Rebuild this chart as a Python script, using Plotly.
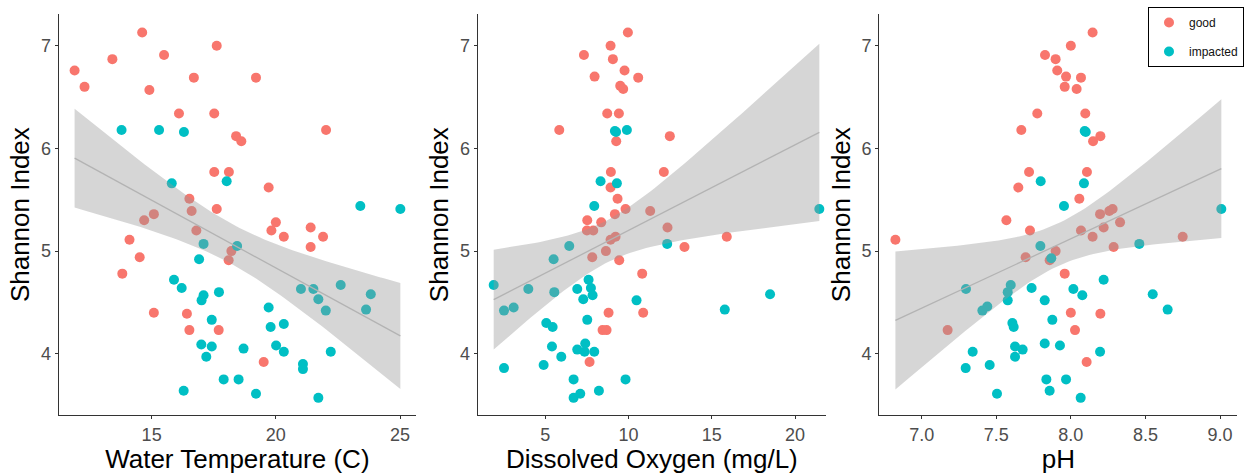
import numpy as np
import plotly.graph_objects as go

# ---------------- data ----------------
temp_good = [11.90, 12.30, 13.42, 14.62, 14.91, 15.50, 16.70, 17.62, 19.20, 16.10,
             17.52, 22.02, 18.40, 18.61, 17.52, 18.11, 19.71, 16.52, 16.61, 17.62,
             15.09, 14.70, 16.80, 20.00, 19.82, 20.32, 21.40, 21.90, 21.40, 14.11,
             18.21, 18.10, 14.52, 13.82, 15.09, 16.42, 16.52, 17.70, 19.51]
sh_temp_good = [6.76, 6.60, 6.87, 7.13, 6.57, 6.91, 6.69, 7.00, 6.69, 6.34,
                6.34, 6.18, 6.12, 6.07, 5.77, 5.77, 5.62, 5.51, 5.39, 5.41,
                5.36, 5.30, 5.20, 5.28, 5.20, 5.14, 5.23, 5.14, 5.04, 5.11,
                5.00, 4.91, 4.94, 4.78, 4.40, 4.39, 4.23, 4.23, 3.92]
temp_imp = [13.79, 15.30, 16.30, 18.02, 15.81, 23.40, 25.01, 17.09, 18.44, 16.91,
            15.90, 16.21, 17.09, 17.01, 17.71, 21.01, 21.51, 21.71, 22.01, 22.61,
            23.82, 23.63, 17.42, 19.71, 19.79, 20.32, 17.00, 17.42, 17.20, 18.70,
            20.01, 20.32, 22.21, 21.09, 21.09, 17.90, 18.50, 16.29, 19.20, 21.71]
sh_temp_imp = [6.18, 6.18, 6.16, 5.68, 5.66, 5.44, 5.41, 5.07, 5.05, 4.92,
               4.72, 4.64, 4.57, 4.52, 4.60, 4.63, 4.63, 4.53, 4.42, 4.67,
               4.58, 4.43, 4.33, 4.45, 4.26, 4.29, 4.09, 4.07, 3.97, 4.05,
               4.08, 4.02, 4.02, 3.90, 3.85, 3.75, 3.75, 3.64, 3.61, 3.57]

do_good = [9.96, 8.92, 7.32, 9.06, 9.76, 7.96, 10.58, 9.50, 9.68, 8.72,
           9.42, 5.84, 12.48, 9.26, 12.12, 8.94, 8.92, 9.34, 9.82, 11.30,
           9.18, 7.52, 8.36, 7.50, 7.88, 12.34, 9.22, 8.92, 15.90, 13.36,
           8.64, 7.82, 9.44, 10.82, 8.80, 10.88, 8.44, 8.68, 7.66]
sh_do_good = [7.13, 7.00, 6.91, 6.87, 6.76, 6.70, 6.69, 6.61, 6.58, 6.34,
              6.34, 6.18, 6.12, 6.07, 5.77, 5.77, 5.62, 5.51, 5.41, 5.39,
              5.36, 5.30, 5.28, 5.20, 5.20, 5.23, 5.14, 5.11, 5.14, 5.04,
              5.00, 4.94, 4.91, 4.78, 4.40, 4.40, 4.23, 4.23, 3.92]
do_imp = [9.18, 9.90, 8.32, 9.30, 7.94, 21.46, 12.32, 6.44, 5.50, 1.90,
          3.98, 5.54, 2.52, 3.10, 6.92, 7.60, 7.74, 7.84, 7.28, 10.48,
          18.50, 15.78, 7.52, 5.06, 5.44, 5.40, 5.96, 6.92, 7.40, 7.36,
          7.94, 2.52, 4.90, 6.70, 9.82, 8.22, 6.70, 7.10, 9.25]
sh_do_imp = [6.17, 6.18, 5.68, 5.66, 5.44, 5.41, 5.07, 5.05, 4.92, 4.67,
             4.63, 4.60, 4.42, 4.45, 4.63, 4.72, 4.64, 4.57, 4.53, 4.52,
             4.58, 4.43, 4.33, 4.30, 4.26, 4.07, 3.97, 4.04, 4.10, 4.02,
             4.02, 3.86, 3.89, 3.75, 3.75, 3.64, 3.57, 3.61, 6.16]

ph_good = [8.146, 8.000, 7.827, 7.898, 7.909, 7.968, 8.068, 7.959, 8.039, 7.775,
           8.097, 7.668, 8.198, 8.149, 7.720, 8.108, 7.648, 8.057, 7.568, 7.726,
           8.196, 8.258, 8.280, 8.330, 8.068, 8.220, 8.146, 8.287, 8.750, 6.824,
           7.898, 7.697, 7.858, 7.959, 8.000, 8.198, 8.028, 7.174, 8.106]
sh_ph_good = [7.13, 7.00, 6.91, 6.87, 6.76, 6.70, 6.69, 6.60, 6.58, 6.34,
              6.34, 6.18, 6.12, 6.07, 5.77, 5.77, 5.62, 5.51, 5.30, 5.20,
              5.36, 5.39, 5.41, 5.28, 5.20, 5.23, 5.14, 5.04, 5.14, 5.11,
              5.00, 4.94, 4.91, 4.78, 4.40, 4.39, 4.23, 4.23, 3.92]
ph_imp = [8.093, 8.100, 7.798, 8.088, 7.954, 9.009, 7.796, 8.459, 7.869, 7.297,
          7.597, 7.577, 7.577, 7.407, 7.440, 7.737, 7.825, 8.017, 8.077, 8.220,
          8.549, 8.649, 7.608, 7.617, 7.876, 7.342, 7.626, 7.677, 7.626, 7.825,
          7.927, 8.196, 7.295, 7.456, 7.836, 7.968, 7.858, 7.505, 8.066]
sh_ph_imp = [6.17, 6.16, 5.68, 5.66, 5.44, 5.41, 5.05, 5.07, 4.93, 4.63,
             4.67, 4.60, 4.52, 4.42, 4.46, 4.64, 4.52, 4.63, 4.57, 4.72,
             4.58, 4.43, 4.30, 4.26, 4.33, 4.02, 4.07, 4.04, 3.97, 4.10,
             4.08, 4.02, 3.86, 3.89, 3.75, 3.75, 3.64, 3.61, 3.57]

groups = ["good", "impacted"]
x_titles = ["Water Temperature (C)", "Dissolved Oxygen (mg/L)", "pH"]
y_title = "Shannon Index"
y_ticks = [4, 5, 6, 7]
x_ticks = [[15, 20, 25], [5, 10, 15, 20], [7.0, 7.5, 8.0, 8.5, 9.0]]
x_ranges = [[11.26, 25.64], [0.94, 21.86], [6.716, 9.116]]
y_range = [3.40, 7.31]

panels = [
    (temp_good, sh_temp_good, temp_imp, sh_temp_imp),
    (do_good, sh_do_good, do_imp, sh_do_imp),
    (ph_good, sh_ph_good, ph_imp, sh_ph_imp),
]

# ---------------- styling ----------------
W, H = 1255, 474
colors = {"good": "#F8766D", "impacted": "#00BFC4"}
FONT = "Liberation Sans, Arial, sans-serif"
x_dom_px = [(58.7, 416.0), (477.7, 826.0), (879.3, 1237.3)]
y_dom_px = (14.0, 415.3)
y_domain = [1 - y_dom_px[1] / H, 1 - y_dom_px[0] / H]


def t_quantile(df, z=1.959963985):
    return z + (z**3 + z) / (4 * df) + (5 * z**5 + 16 * z**3 + 3 * z) / (96 * df**2)


def lm_band(x, y, n=80):
    x = np.asarray(x, float)
    y = np.asarray(y, float)
    b1, b0 = np.polyfit(x, y, 1)
    resid = y - (b0 + b1 * x)
    dof = len(x) - 2
    s = np.sqrt(np.sum(resid**2) / dof)
    sxx = np.sum((x - x.mean())**2)
    xs = np.linspace(x.min(), x.max(), n)
    fit = b0 + b1 * xs
    se = s * np.sqrt(1 / len(x) + (xs - x.mean())**2 / sxx)
    t = t_quantile(dof)
    return xs, fit, fit - t * se, fit + t * se


fig = go.Figure()

for i, (xg, yg, xi, yi) in enumerate(panels):
    sfx = "" if i == 0 else str(i + 1)
    xa, ya = "x" + sfx, "y" + sfx
    for name, xv, yv in (("good", xg, yg), ("impacted", xi, yi)):
        fig.add_trace(go.Scatter(
            x=xv, y=yv, mode="markers", name=name, legendgroup=name,
            showlegend=(i == 2),
            marker=dict(color=colors[name], size=10, line=dict(width=0)),
            xaxis=xa, yaxis=ya, hoverinfo="x+y",
        ))
    xs, fit, lo, hi = lm_band(list(xg) + list(xi), list(yg) + list(yi))
    fig.add_trace(go.Scatter(
        x=np.concatenate([xs, xs[::-1]]), y=np.concatenate([hi, lo[::-1]]),
        mode="lines", fill="toself", fillcolor="rgba(153,153,153,0.4)",
        line=dict(width=0), showlegend=False, hoverinfo="skip",
        xaxis=xa, yaxis=ya,
    ))
    fig.add_trace(go.Scatter(
        x=xs, y=fit, mode="lines", line=dict(color="#b3b3b3", width=1.3),
        showlegend=False, hoverinfo="skip", xaxis=xa, yaxis=ya,
    ))

    x0, x1 = x_dom_px[i]
    axis_common = dict(
        showgrid=False, zeroline=False, showline=True, linecolor="#333333",
        linewidth=1.3, ticks="outside", ticklen=3, tickwidth=1.1,
        tickcolor="#333333",
        tickfont=dict(family=FONT, size=18, color="#4D4D4D"),
    )
    fig.layout["xaxis" + sfx] = dict(
        axis_common, domain=[x0 / W, x1 / W], range=x_ranges[i],
        tickvals=x_ticks[i],
        tickformat=".1f" if i == 2 else "d",
        anchor=ya,
        title=dict(text=x_titles[i], standoff=3,
                   font=dict(family=FONT, size=26, color="#000000")),
    )
    fig.layout["yaxis" + sfx] = dict(
        axis_common, domain=y_domain, range=y_range, tickvals=y_ticks,
        anchor=xa,
        title=dict(text=y_title, standoff=3,
                   font=dict(family=FONT, size=26, color="#000000")),
    )

fig.update_layout(
    width=W, height=H,
    margin=dict(l=0, r=0, t=0, b=0),
    paper_bgcolor="white", plot_bgcolor="white",
    legend=dict(
        x=1148 / W, y=1 - 7 / H, xanchor="left", yanchor="top",
        bordercolor="#000000", borderwidth=1,
        font=dict(family=FONT, size=12, color="#111111"),
        bgcolor="white", entrywidth=64, entrywidthmode="pixels",
    ),
    font=dict(family=FONT),
)

fig.write_html(
    "out.html",
    config={"displayModeBar": False},
    post_script="document.body.style.margin='0';document.body.style.padding='0';"
                "document.documentElement.style.overflow='hidden';",
)
